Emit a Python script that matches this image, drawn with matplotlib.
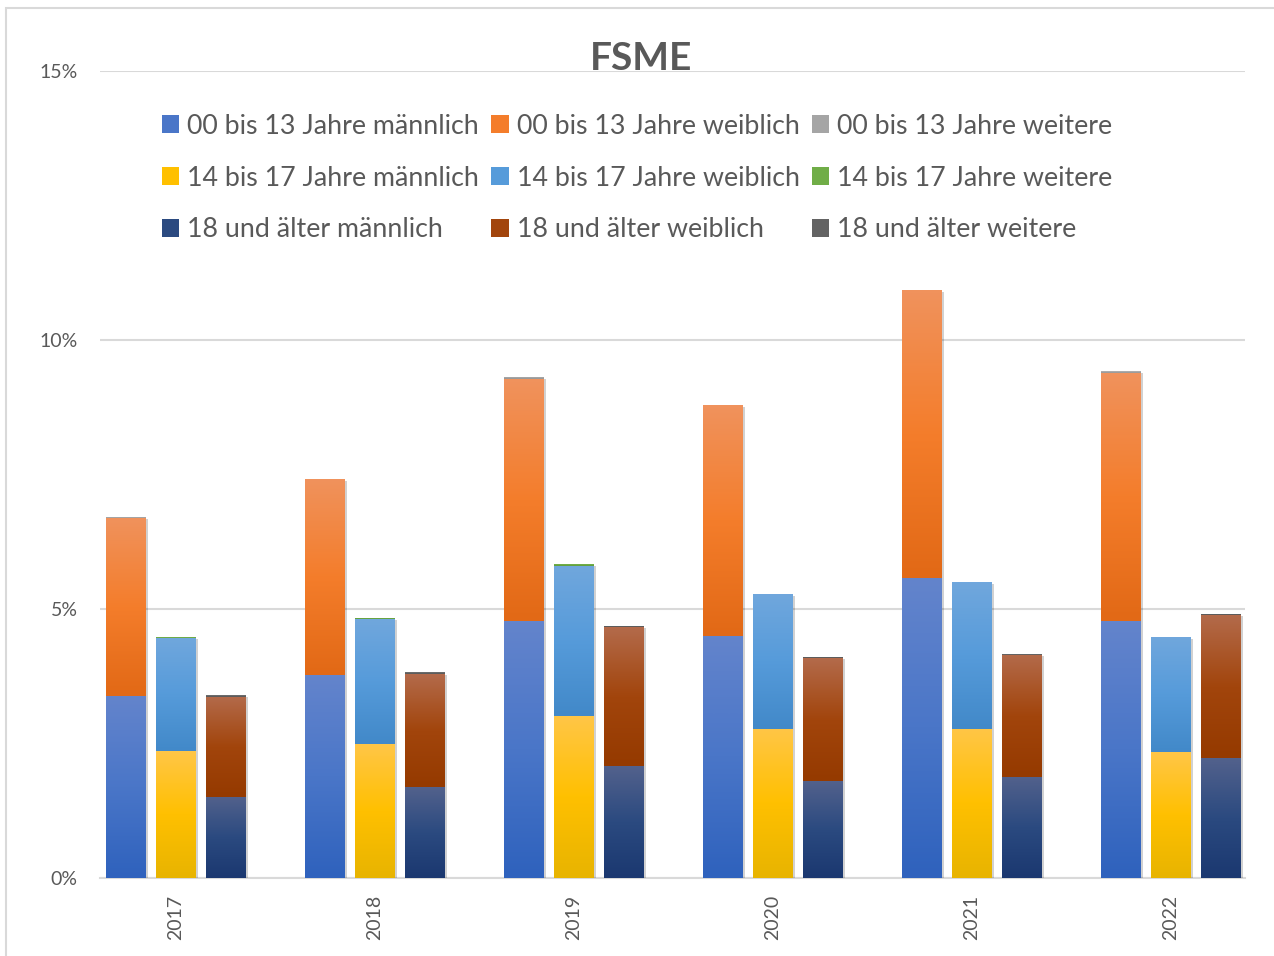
import numpy as np
import matplotlib
matplotlib.use('Agg')
import matplotlib.pyplot as plt
from matplotlib.colors import LinearSegmentedColormap
from matplotlib.patches import Patch, Rectangle
from matplotlib.ticker import FuncFormatter
import matplotlib.patheffects as pe

plt.rcParams['font.family'] = ['Lato', 'DejaVu Sans']

# Anteile in Prozent, je Jahr
years = ['2017', '2018', '2019', '2020', '2021', '2022']
m_0013 = [3.38, 3.77, 4.78, 4.50, 5.58, 4.78]
w_0013 = [3.32, 3.65, 4.49, 4.29, 5.35, 4.61]
x_0013 = [0.01, 0.00, 0.04, 0.00, 0.00, 0.03]
m_1417 = [2.36, 2.49, 3.01, 2.77, 2.77, 2.34]
w_1417 = [2.11, 2.32, 2.79, 2.51, 2.73, 2.14]
x_1417 = [0.01, 0.02, 0.04, 0.00, 0.00, 0.00]
m_18 = [1.51, 1.69, 2.08, 1.80, 1.88, 2.23]
w_18 = [1.86, 2.10, 2.58, 2.28, 2.27, 2.65]
x_18 = [0.03, 0.03, 0.03, 0.03, 0.01, 0.03]

labels = [
    ['00 bis 13 Jahre männlich', '00 bis 13 Jahre weiblich', '00 bis 13 Jahre weitere'],
    ['14 bis 17 Jahre männlich', '14 bis 17 Jahre weiblich', '14 bis 17 Jahre weitere'],
    ['18 und älter männlich', '18 und älter weiblich', '18 und älter weitere'],
]
groups = [[m_0013, w_0013, x_0013], [m_1417, w_1417, x_1417], [m_18, w_18, x_18]]

# Farbverlauf oben -> mitte -> unten
grad = [
    [('#6384cc', '#4a76c8', '#2f62bd'), ('#f0925c', '#f47d2b', '#e26916'), ('#b5b5b5', '#a5a5a5', '#939393')],
    [('#ffc646', '#ffc000', '#e8b400'), ('#70a7dd', '#569bda', '#4289c9'), ('#7dba55', '#70ad47', '#5e9a3a')],
    [('#52618c', '#2b4a80', '#1b3870'), ('#b36a4a', '#a2450c', '#953a00'), ('#757575', '#636363', '#555555')],
]

text_col = '#595959'
W, H = 1274, 956
fig = plt.figure(figsize=(W / 100, H / 100), dpi=100)
ax = fig.add_axes([100 / W, 1 - 878 / H, (1245 - 100) / W, (878 - 71) / H])

xs = np.arange(len(years))
offsets = [-0.251, 0.0, 0.251]
bw = 0.2

for gi, series in enumerate(groups):
    bottom = np.zeros(len(years))
    for si, vals in enumerate(series):
        vals = np.array(vals) / 100.0
        cols = grad[gi][si]
        cmap = LinearSegmentedColormap.from_list('g', list(cols))
        bars = ax.bar(xs + offsets[gi], vals, bw, bottom=bottom, color=cols[1],
                      linewidth=0, zorder=3)
        for b, v, y0 in zip(bars, vals, bottom):
            if v <= 0:
                continue
            b.set_path_effects([pe.SimplePatchShadow(offset=(1.5, -1.5), shadow_rgbFace='#000000', alpha=0.18), pe.Normal()])
            x0 = b.get_x()
            img = np.linspace(0, 1, 64).reshape(-1, 1)
            im = ax.imshow(img, cmap=cmap, extent=(x0, x0 + bw, y0, y0 + v),
                           origin='upper', aspect='auto', zorder=4, interpolation='bilinear')
            im.set_clip_path(b)
        bottom = bottom + vals

ax.set_xlim(-0.382, 5.372)
ax.set_ylim(0, 0.15)
ax.set_yticks([0, 0.05, 0.10, 0.15])
ax.yaxis.set_major_formatter(FuncFormatter(lambda v, p: '{:.0f}%'.format(v * 100)))
ax.set_xticks(xs)
ax.set_xticklabels(years, rotation=90)
ax.tick_params(axis='both', length=0, labelsize=14, colors=text_col)
ax.tick_params(axis='y', pad=16)
ax.tick_params(axis='x', pad=12)
ax.grid(axis='y', color='#d9d9d9', linewidth=1.5, zorder=0)
ax.set_axisbelow(True)
for s in ['top', 'right', 'left']:
    ax.spines[s].set_visible(False)
ax.spines['bottom'].set_color('#d9d9d9')
ax.spines['bottom'].set_linewidth(1.5)

fig.text(641 / W, 1 - 58 / H, 'FSME', ha='center', va='center', fontsize=28,
         fontweight='bold', color=text_col)

# Legende: spaltenweise befüllt, daher nach Geschlecht sortiert
handles, names = [], []
for si in range(3):
    for gi in range(3):
        handles.append(Patch(facecolor=grad[gi][si][1], edgecolor='none'))
        names.append(labels[gi][si])
fig.legend(handles, names, ncol=3, loc='center', bbox_to_anchor=(637 / W, 1 - 178 / H),
           frameon=False, fontsize=19.3, labelcolor=text_col, handlelength=0.65,
           handleheight=0.65, handletextpad=0.3, columnspacing=0.45, labelspacing=1.0)

fig.add_artist(Rectangle((6 / W, -0.01), 1.0, 1 - 8 / H + 0.01, transform=fig.transFigure,
                         fill=False, edgecolor='#d9d9d9', linewidth=1.5))

fig.savefig('out.png', dpi=100)
